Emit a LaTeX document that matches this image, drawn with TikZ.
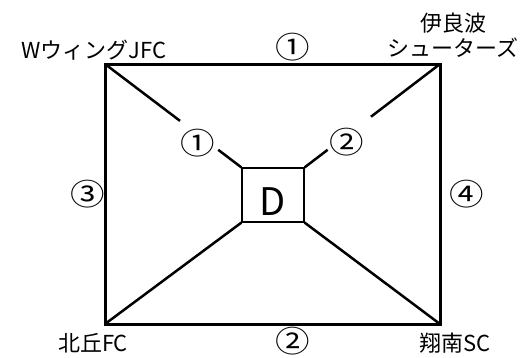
\documentclass[tikz,border=0pt]{standalone}
\usepackage{fontspec}
\setmainfont{Noto Sans CJK JP}
\usetikzlibrary{positioning}
\tikzset{
  team/.style={font=\fontsize{22}{25}\selectfont, inner sep=0pt, align=center},
  game/.style={font=\fontsize{30}{30}\selectfont, inner sep=0pt, xscale=1.15, transform shape},
  side/.style={line width=3pt},
  diag/.style={line width=2.5pt},
  dbox/.style={draw, line width=1.2pt, minimum width=62pt, minimum height=54pt,
    inner sep=0pt, text height=40pt, text depth=0pt, font=\fontsize{38}{40}\selectfont}
}
\begin{document}
\begin{tikzpicture}[x=1pt,y=-1pt]
\useasboundingbox (0,0) rectangle (526,357);
% corners of the field
\coordinate (wing) at (105,64);
\coordinate (iraha) at (440,64);
\coordinate (kitaoka) at (105,324);
\coordinate (shonan) at (440,324);
\node[dbox] (D) at (273,195) {D};
% diagonals, the upper two broken for their labels
\path (wing) -- (D.north west) coordinate[pos=.55] (wa) coordinate[pos=.83] (wb);
\path (iraha) -- (D.north east) coordinate[pos=.51] (ia) coordinate[pos=.83] (ib);
\draw[diag] (wing) -- (wa);
\draw[diag] (wb) -- (D.north west);
\draw[diag] (iraha) -- (ia);
\draw[diag] (ib) -- (D.north east);
\draw[diag] (kitaoka) -- (D.south west);
\draw[diag] (shonan) -- (D.south east);
\draw[side] (wing) -- (iraha) -- (shonan) -- (kitaoka) -- cycle;
% teams
\node[team] (wingname) at (94,50) {WウィングJFC};
\node[team] (irahaname) at (453,35) {伊良波\\シューターズ};
\node[team] (kitaokaname) at (93,343) {北丘FC};
\node[team] (shonanname) at (455,343) {翔南SC};
% game numbers
\node[game] (top) at (293,47) {①};
\node[game] (bottom) at (293,341) {②};
\node[game] (left) at (88,194) {③};
\node[game] (right) at (467,194) {④};
\node[game] (gw) at (198,143) {①};
\node[game] (gi) at (347,142) {②};
\end{tikzpicture}
\end{document}
